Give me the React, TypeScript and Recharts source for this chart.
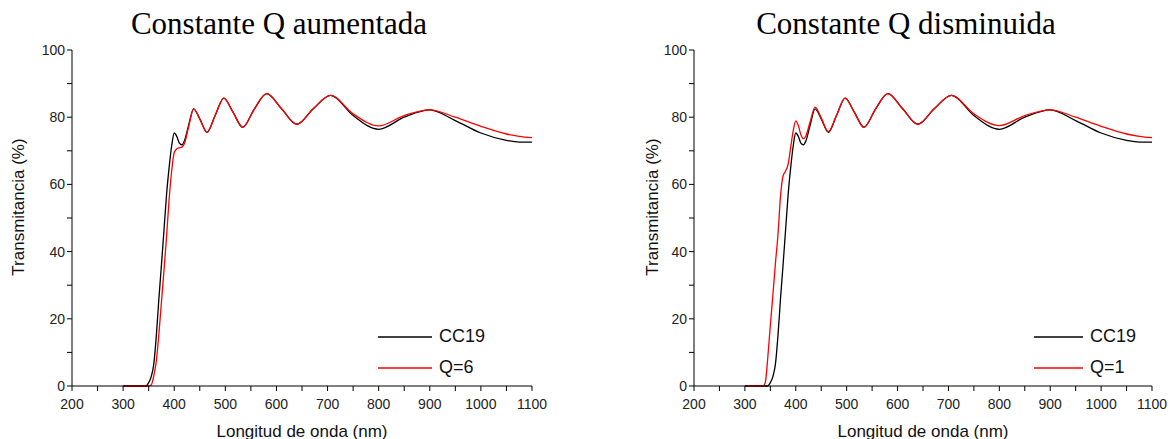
import React from 'react';
import { LineChart, Line, XAxis, YAxis, Legend } from 'recharts';

// wavelength grid (nm) shared by all curves
const WAVELENGTH = [
  300, 335, 340, 345, 350, 355, 360, 365, 370, 375, 380, 385, 390, 395, 400, 405, 410, 415, 420, 428,
  438, 450, 464, 480, 497, 515, 534, 557, 581, 610, 640, 672, 706, 750, 800, 850, 900, 950, 1000, 1050,
  1075, 1100,
];

// measured film
const CC19 = [
  0, 0, 0, 0, 1, 2.8, 6.5, 15, 26, 36, 46.5, 57, 65, 71.5, 75.3, 74.3, 72.3, 71.8, 73, 77.5,
  82.5, 79.5, 75.5, 80.5, 85.7, 81.5, 77, 82.5, 87, 82.5, 77.9, 82.5, 86.5, 80.5, 76.4, 80, 82.2, 79, 75.3, 73.1,
  72.6, 72.6,
];

// simulation with Q raised
const Q6 = [
  0, 0, 0, 0, 0, 0.3, 3, 7.5, 15.5, 25, 34.5, 44.5, 55.5, 64, 69.5, 70.6, 70.9, 71.1, 72.2, 77,
  82.5, 79.5, 75.5, 80.5, 85.7, 81.5, 77, 82.5, 87, 82.5, 77.9, 82.5, 86.5, 81, 77.4, 80.5, 82.2, 80, 77.3, 75,
  74.3, 73.9,
];

// simulation with Q lowered
const Q1 = [
  0, 0, 1, 8.5, 18, 27, 36.5, 45, 56.5, 62.5, 64, 66, 71, 76, 78.9, 77.5, 74.8, 73.6, 74.5, 78.5,
  83, 79.8, 75.7, 80.5, 85.7, 81.5, 77, 82.5, 87, 82.5, 77.9, 82.5, 86.5, 81, 77.5, 80.5, 82.2, 80, 77.3, 75,
  74.3, 73.9,
];

const X_TICKS = [200, 250, 300, 350, 400, 450, 500, 550, 600, 650, 700, 750, 800, 850, 900, 950, 1000, 1050, 1100];
const Y_TICKS = [0, 10, 20, 30, 40, 50, 60, 70, 80, 90, 100];

const SANS = '"Liberation Sans", Arial, sans-serif';
const SERIF = '"Liberation Serif", "Times New Roman", serif';

const buildRows = (red: number[]) =>
  WAVELENGTH.map((wl, i) => ({ wl, cc19: CC19[i], sim: red[i] }));

const LegendBox = ({ payload, lineWidth }: any) => (
  <div style={{ fontFamily: SANS, fontSize: 18, color: '#111' }}>
    {(payload || []).map((p: any) => (
      <div key={p.value} style={{ display: 'flex', alignItems: 'center', height: 31 }}>
        <svg width={lineWidth} height={4}>
          <line x1={0} x2={lineWidth} y1={2} y2={2} stroke={p.color} strokeWidth={1.5} />
        </svg>
        <span style={{ marginLeft: 7 }}>{p.value}</span>
      </div>
    ))}
  </div>
);

// rotated y title, a little above the plot centre like the original
const YTitle = ({ viewBox, cx }: any) => {
  const x = viewBox.x + cx;
  const y = viewBox.y + viewBox.height / 2 - 11;
  return (
    <text
      x={x}
      y={y}
      transform={`rotate(-90, ${x}, ${y})`}
      textAnchor="middle"
      dominantBaseline="central"
      style={{ fontFamily: SANS, fontSize: 17, fill: '#111' }}
    >
      Transmitancia (%)
    </text>
  );
};

// x title, centred under the plot
const XTitle = ({ viewBox }: any) => (
  <text
    x={viewBox.x + viewBox.width / 2}
    y={431}
    textAnchor="middle"
    dominantBaseline="central"
    style={{ fontFamily: SANS, fontSize: 17, fill: '#111' }}
  >
    Longitud de onda (nm)
  </text>
);

interface PanelProps {
  title: string;
  titleLeft: number;
  redName: string;
  red: number[];
  marginLeft: number;
  marginRight: number;
  labelOffset: number;
  legendLeft: number;
  legendLine: number;
}

const Panel: React.FC<PanelProps> = (p) => {
  const rows = buildRows(p.red);
  return (
    <div style={{ position: 'relative', width: 586, height: 439 }}>
      <div
        style={{
          position: 'absolute', top: 7, left: p.titleLeft - 50, width: 400, textAlign: 'center',
          fontFamily: SERIF, fontSize: 31, lineHeight: '34px', color: '#000', whiteSpace: 'nowrap',
        }}
      >
        {p.title}
      </div>
      <LineChart
        width={586}
        height={439}
        data={rows}
        margin={{ top: 50, right: p.marginRight, bottom: 0, left: p.marginLeft }}
      >
        <XAxis
          dataKey="wl"
          type="number"
          domain={[200, 1100]}
          ticks={X_TICKS}
          tickFormatter={(v) => (v % 100 === 0 ? String(v) : '')}
          height={53}
          stroke="#000"
          tickSize={5}
          tickMargin={8}
          tick={{ fontFamily: SANS, fontSize: 14, fill: '#222' }}
          label={(props: any) => <XTitle {...props} />}
        />
        <YAxis
          type="number"
          domain={[0, 100]}
          ticks={Y_TICKS}
          tickFormatter={(v) => (v % 20 === 0 ? String(v) : '')}
          width={72}
          stroke="#000"
          tickSize={5}
          tick={{ fontFamily: SANS, fontSize: 14, fill: '#222' }}
          label={(props: any) => <YTitle {...props} cx={p.labelOffset} />}
        />
        <Legend
          layout="horizontal"
          verticalAlign="middle"
          align="center"
          wrapperStyle={{ left: p.legendLeft, top: 321, width: 'auto' }}
          content={(props: any) => <LegendBox {...props} lineWidth={p.legendLine} />}
        />
        <Line type="monotone" dataKey="cc19" name="CC19" stroke="#000" strokeWidth={1.3} dot={false} isAnimationActive={false} />
        <Line type="monotone" dataKey="sim" name={p.redName} stroke="#ff0000" strokeWidth={1.3} dot={false} isAnimationActive={false} />
      </LineChart>
    </div>
  );
};

export default function App() {
  return (
    <div style={{ position: 'absolute', left: 0, top: 0, width: 1173, height: 439, background: '#fff', display: 'flex' }}>
      <Panel
        title="Constante Q aumentada"
        titleLeft={129}
        redName="Q=6"
        red={Q6}
        marginLeft={0}
        marginRight={54}
        labelOffset={18}
        legendLeft={378}
        legendLine={54}
      />
      <div style={{ width: 1 }} />
      <Panel
        title="Constante Q disminuida"
        titleLeft={169}
        redName="Q=1"
        red={Q1}
        marginLeft={35}
        marginRight={21}
        labelOffset={30}
        legendLeft={447}
        legendLine={49}
      />
    </div>
  );
}
